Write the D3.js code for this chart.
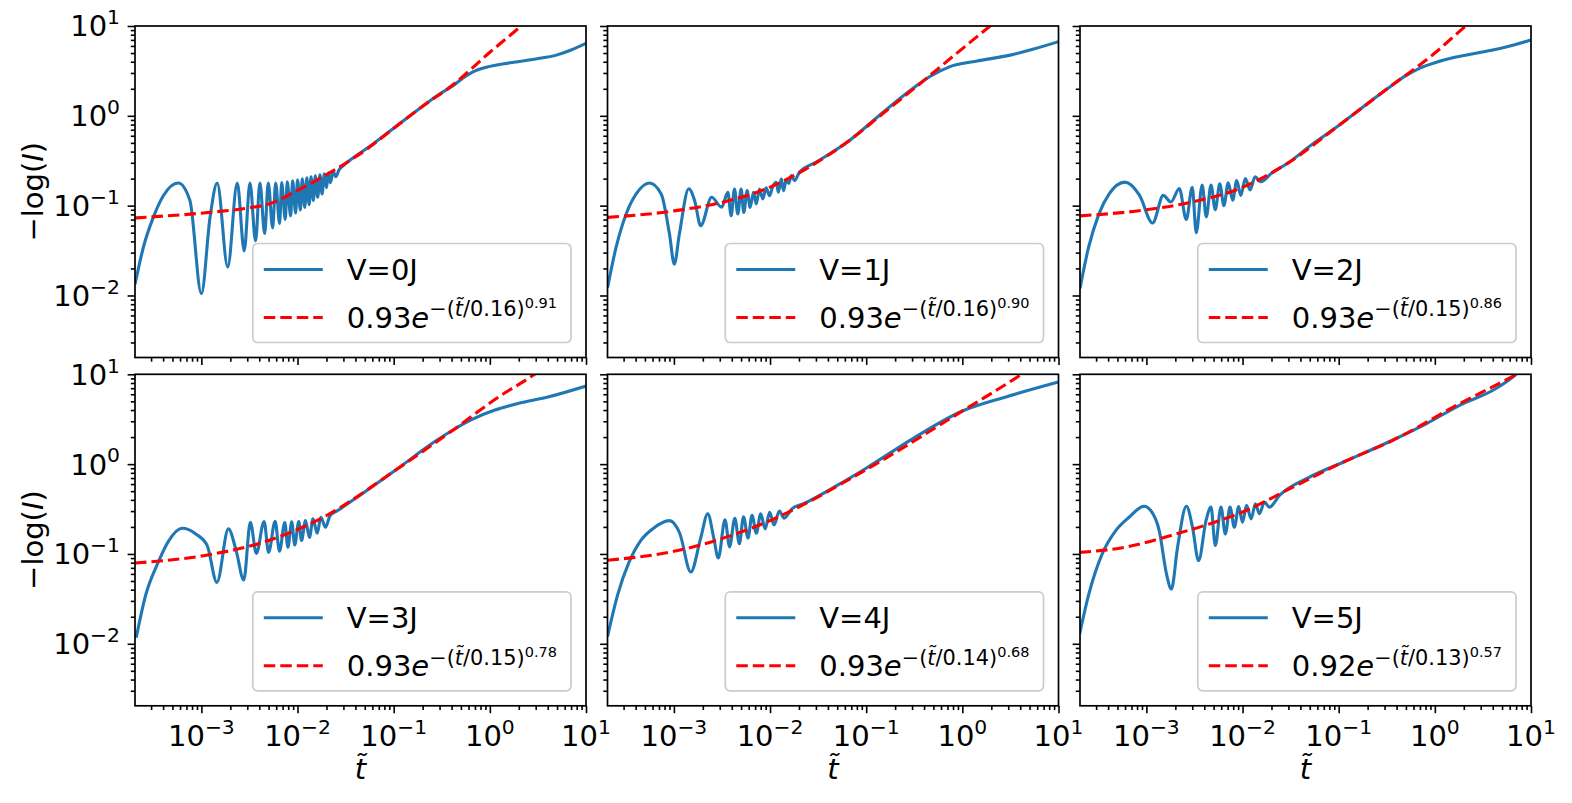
<!DOCTYPE html>
<html lang="en">
<head>
<meta charset="UTF-8">
<title>-log(I) vs t, V=0J..5J</title>
<script src="https://cdn.jsdelivr.net/npm/d3@7"></script>
<style>
  body { margin: 0; background: #fff; }
  svg text { font-family: "DejaVu Sans", sans-serif; fill: #000; }
</style>
</head>
<body>
<script>
// ---- data: [t, -log(I)] ----
var voltages = ["0", "1", "2", "3", "4", "5"];
var fitAmp = ["0.93", "0.93", "0.93", "0.93", "0.93", "0.92"];
var fitTau = ["0.16", "0.16", "0.15", "0.15", "0.14", "0.13"];
var fitBeta = ["0.91", "0.90", "0.86", "0.78", "0.68", "0.57"];

var xTicks = [1e-3, 1e-2, 1e-1, 1, 10];
var xTickExp = ["\u22123", "\u22122", "\u22121", "0", "1"];
var yTicks = [1e-2, 1e-1, 1, 10];
var yTickExp = ["\u22122", "\u22121", "0", "1"];

var blue0 = [[2.04e-4,0.0133],[2.49e-4,0.0342],[3.16e-4,0.074],[4.02e-4,0.129],[5.75e-4,0.179],[7.6e-4,0.114],
  [1.0e-3,0.0105],[1.23e-3,0.074],[1.46e-3,0.179],[1.88e-3,0.0208],[2.36e-3,0.179],[2.79e-3,0.0314],[3.2e-3,0.179],
  [3.66e-3,0.0406],[4.06e-3,0.179],[4.55e-3,0.049],[4.96e-3,0.179],[5.51e-3,0.0564],[5.92e-3,0.179],[6.51e-3,0.0634],
  [6.84e-3,0.181],[7.45e-3,0.0703],[7.82e-3,0.184],[8.47e-3,0.0767],[8.89e-3,0.189],[9.55e-3,0.0828],[1.0e-2,0.194],
  [1.07e-2,0.0895],[1.12e-2,0.199],[1.19e-2,0.0958],[1.25e-2,0.204],[1.32e-2,0.1025],[1.38e-2,0.209],[1.46e-2,0.114],
  [1.53e-2,0.215],[1.62e-2,0.124],[1.71e-2,0.22],[1.8e-2,0.135],[1.9e-2,0.226],[2.0e-2,0.158],[2.1e-2,0.232],
  [2.2e-2,0.18],[2.35e-2,0.24],[2.5e-2,0.21],[2.7e-2,0.25],[3.0e-2,0.28],[3.5e-2,0.32],[6e-2,0.48],[0.104,0.75],
  [0.2,1.28],[0.3,1.75],[0.41,2.15],[0.53,2.65],[0.653,3.05],[0.94,3.5],[1.4,3.8],[1.96,4.0],[3.0,4.3],[4.92,4.74],
  [7.0,5.4],[10,6.4]];
var red0 = [[2.04e-4,0.073],[1.05e-3,0.083],[3e-3,0.094],[5e-3,0.104],[1e-2,0.148],[2e-2,0.222],[5e-2,0.41],
  [0.104,0.75],[0.2,1.28],[0.41,2.2],[1.0,5.1],[2.0,9.5],[2.5,11.7]];

var blue1 = [[2.04e-4,0.0122],[2.5e-4,0.034],[3.19e-4,0.0807],[4.05e-4,0.135],[5.58e-4,0.179],[7.38e-4,0.135],
  [9.0e-4,0.0483],[1.01e-3,0.0223],[1.14e-3,0.0483],[1.43e-3,0.154],[1.65e-3,0.112],[1.9e-3,0.0598],[2.47e-3,0.124],
  [3.14e-3,0.096],[3.64e-3,0.141],[3.94e-3,0.0773],[4.27e-3,0.153],[4.62e-3,0.0807],[5.0e-3,0.153],[5.33e-3,0.084],
  [5.78e-3,0.147],[6.21e-3,0.0957],[6.73e-3,0.141],[7.18e-3,0.1045],[7.77e-3,0.153],[8.4e-3,0.119],[9.1e-3,0.158],
  [9.87e-3,0.129],[1.07e-2,0.165],[1.16e-2,0.182],[1.22e-2,0.141],[1.31e-2,0.199],[1.38e-2,0.147],[1.47e-2,0.19],
  [1.57e-2,0.177],[1.66e-2,0.216],[1.8e-2,0.19],[2.02e-2,0.235],[3.02e-2,0.305],[6.7e-2,0.532],[0.137,1.01],
  [0.305,2.01],[0.455,2.72],[0.733,3.51],[1.39,4.06],[3.15,4.74],[5.4,5.5],[10,6.7]];
var red1 = [[2.04e-4,0.074],[1.05e-3,0.088],[3.78e-3,0.114],[9.1e-3,0.154],[2.37e-2,0.257],[6.7e-2,0.532],
  [0.149,1.06],[0.357,2.25],[0.86,4.9],[1.9,9.8],[2.4,12]];

var blue2 = [[2.04e-4,0.012],[2.5e-4,0.034],[3.2e-4,0.08],[4.1e-4,0.135],[6.0e-4,0.183],[8.5e-4,0.13],[1.16e-3,0.064],
  [1.5e-3,0.13],[1.8e-3,0.11],[2.2e-3,0.155],[2.6e-3,0.07],[3.0e-3,0.16],[3.3e-3,0.05],[3.8e-3,0.17],[4.2e-3,0.075],
  [4.7e-3,0.17],[5.2e-3,0.09],[5.8e-3,0.175],[6.4e-3,0.1],[7.1e-3,0.18],[7.9e-3,0.115],[8.7e-3,0.19],[9.6e-3,0.13],
  [1.07e-2,0.2],[1.2e-2,0.15],[1.35e-2,0.21],[1.55e-2,0.185],[2e-2,0.23],[3e-2,0.3],[5e-2,0.46],[0.1,0.78],[0.3,1.9],
  [0.5,2.8],[0.7,3.4],[1.0,3.9],[1.57,4.45],[2.5,4.9],[4.0,5.4],[6.5,6.1],[10,7.0]];
var red2 = [[2.04e-4,0.077],[1e-3,0.09],[3e-3,0.11],[1e-2,0.16],[3e-2,0.3],[0.1,0.78],[0.3,1.9],[1.0,5.0],
  [2.1,10],[2.6,12]];

var blue3 = [[2.1e-4,0.0117],[2.65e-4,0.0357],[3.49e-4,0.0773],[4.59e-4,0.141],[6.33e-4,0.193],[8.75e-4,0.167],
  [1.15e-3,0.124],[1.45e-3,0.0482],[1.91e-3,0.19],[2.3e-3,0.109],[2.76e-3,0.0512],[3.23e-3,0.225],[3.73e-3,0.1016],
  [4.49e-3,0.23],[5.0e-3,0.104],[5.85e-3,0.231],[6.49e-3,0.107],[7.37e-3,0.224],[7.94e-3,0.119],[8.7e-3,0.228],
  [9.35e-3,0.126],[1.03e-2,0.23],[1.1e-2,0.141],[1.21e-2,0.235],[1.33e-2,0.153],[1.45e-2,0.246],[1.6e-2,0.17],
  [1.75e-2,0.256],[1.95e-2,0.198],[2.18e-2,0.268],[2.62e-2,0.305],[0.104,0.853],[0.261,1.75],[0.413,2.4],
  [0.653,3.15],[1.13,4.0],[1.96,4.74],[4.1,5.62],[10,7.4]];
var red3 = [[2.04e-4,0.0794],[1.05e-3,0.0957],[5e-3,0.141],[2e-2,0.268],[0.104,0.853],[0.413,2.39],[1.24,5.62],
  [2.84,9.8],[3.5,11.5]];

var blue4 = [[2.04e-4,0.012],[2.6e-4,0.035],[3.4e-4,0.08],[4.5e-4,0.14],[6e-4,0.19],[9e-4,0.235],[1.15e-3,0.17],
  [1.5e-3,0.063],[1.9e-3,0.15],[2.25e-3,0.28],[2.6e-3,0.15],[2.9e-3,0.09],[3.4e-3,0.24],[3.8e-3,0.12],[4.3e-3,0.25],
  [4.8e-3,0.13],[5.3e-3,0.26],[5.9e-3,0.15],[6.5e-3,0.27],[7.2e-3,0.17],[8e-3,0.28],[8.9e-3,0.19],[9.9e-3,0.29],
  [1.1e-2,0.21],[1.25e-2,0.3],[1.4e-2,0.25],[1.7e-2,0.32],[2.2e-2,0.36],[5e-2,0.58],[0.1,0.9],[0.3,1.9],[1,3.9],
  [3,5.7],[10,8.2]];
var red4 = [[2.04e-4,0.085],[1e-3,0.107],[1e-2,0.235],[0.1,0.87],[1,3.9],[4,9.8],[5,11.5]];

var blue5 = [[2.02e-4,0.0128],[2.52e-4,0.0357],[3.47e-4,0.1],[4.8e-4,0.182],[6.6e-4,0.256],[9.46e-4,0.34],
  [1.11e-3,0.305],[1.36e-3,0.182],[1.62e-3,0.0597],[1.82e-3,0.0406],[2.11e-3,0.119],[2.61e-3,0.34],[3.02e-3,0.198],
  [3.49e-3,0.0841],[4.17e-3,0.235],[4.7e-3,0.332],[5.21e-3,0.124],[5.97e-3,0.332],[6.62e-3,0.167],[7.41e-3,0.332],
  [8.22e-3,0.198],[9.12e-3,0.337],[1.0e-2,0.225],[1.1e-2,0.347],[1.23e-2,0.246],[1.36e-2,0.362],[1.5e-2,0.28],
  [1.69e-2,0.378],[1.9e-2,0.332],[2.42e-2,0.448],[4.98e-2,0.718],[0.111,1.05],[0.314,1.72],[0.82,2.83],[1.83,4.54],
  [4.06,6.68],[6.84,9.8],[8,11.5]];
var red5 = [[2.02e-4,0.104],[6.1e-4,0.119],[2.03e-3,0.167],[4.52e-3,0.216],[1.09e-2,0.305],[3.34e-2,0.555],
  [0.111,1.05],[0.369,1.85],[1.83,4.74],[6.84,9.8],[9,11.5]];

var blues = [blue0, blue1, blue2, blue3, blue4, blue5];
var reds = [red0, red1, red2, red3, red4, red5];

// ---- layout ----
var W = 1572, H = 803;
var panelLeft = [135, 607.5, 1080];
var panelTop = [26, 374.3];
var pw = 451, ph = 331.5;
var F = 29;
var xMin = 2.04e-4, xMax = 10, yMin = 2.04e-3, yMax = 10;

var svg = d3.select("body").append("svg")
    .attr("width", W)
    .attr("height", H);

function supLabel(sel, base, exp) {
    sel.append("tspan").text(base);
    sel.append("tspan")
        .attr("font-size", 0.7 * F)
        .attr("dy", -0.42 * F)
        .text(exp);
}

voltages.forEach(function(v, i) {
    var col = i % 3, row = Math.floor(i / 3);
    var L = panelLeft[col], T = panelTop[row];

    var x = d3.scaleLog().domain([xMin, xMax]).range([L, L + pw]);
    var y = d3.scaleLog().domain([yMin, yMax]).range([T + ph, T]);

    var g = svg.append("g");

    g.append("clipPath").attr("id", "clip" + i)
        .append("rect")
        .attr("x", L).attr("y", T)
        .attr("width", pw).attr("height", ph);

    var line = d3.line()
        .x(function(d) { return x(d[0]); })
        .y(function(d) { return y(d[1]); })
        .curve(d3.curveMonotoneX);

    g.append("path")
        .datum(blues[i])
        .attr("d", line)
        .attr("fill", "none")
        .attr("stroke", "#1f77b4")
        .attr("stroke-width", 3.1)
        .attr("clip-path", "url(#clip" + i + ")");

    g.append("path")
        .datum(reds[i])
        .attr("d", line)
        .attr("fill", "none")
        .attr("stroke", "#ff0000")
        .attr("stroke-width", 3.1)
        .attr("stroke-dasharray", "11.5,5")
        .attr("clip-path", "url(#clip" + i + ")");

    // ticks
    var isMajor = function(d) { return Math.abs(Math.log10(d) - Math.round(Math.log10(d))) < 1e-6; };
    var xMinor = x.ticks().filter(function(d) { return !isMajor(d) && d >= xMin; });
    var yMinor = y.ticks().filter(function(d) { return !isMajor(d) && d >= yMin; });

    var xa = g.append("g").attr("transform", "translate(0," + (T + ph) + ")");
    xa.append("g").call(d3.axisBottom(x).tickValues(xTicks).tickSize(7.4).tickFormat(""));
    xa.append("g").call(d3.axisBottom(x).tickValues(xMinor).tickSize(4.2).tickFormat(""));
    xa.selectAll(".domain").remove();
    xa.selectAll(".tick line").attr("stroke-width", 1.6);

    var ya = g.append("g").attr("transform", "translate(" + L + ",0)");
    ya.append("g").call(d3.axisLeft(y).tickValues(yTicks).tickSize(7.4).tickFormat(""));
    ya.append("g").call(d3.axisLeft(y).tickValues(yMinor).tickSize(4.2).tickFormat(""));
    ya.selectAll(".domain").remove();
    ya.selectAll(".tick line").attr("stroke-width", 1.6);

    // spines
    g.append("rect")
        .attr("x", L).attr("y", T)
        .attr("width", pw).attr("height", ph)
        .attr("fill", "none")
        .attr("stroke", "#000")
        .attr("stroke-width", 1.7);

    // tick labels
    if (row == 1) {
        xTicks.forEach(function(t, k) {
            var tx = g.append("text")
                .attr("x", x(t))
                .attr("y", T + ph + 40)
                .attr("text-anchor", "middle")
                .attr("font-size", F);
            supLabel(tx, "10", xTickExp[k]);
        });
        g.append("text")
            .attr("x", L + pw / 2)
            .attr("y", T + ph + 73)
            .attr("text-anchor", "middle")
            .attr("font-size", F)
            .attr("font-style", "italic")
            .text("t\u0303");
    }
    if (col == 0) {
        yTicks.forEach(function(t, k) {
            var ty = g.append("text")
                .attr("x", L - 15)
                .attr("y", y(t) + 0.36 * F)
                .attr("text-anchor", "end")
                .attr("font-size", F);
            supLabel(ty, "10", yTickExp[k]);
        });
        var yl = g.append("text")
            .attr("transform", "translate(33," + (T + ph / 2) + ") rotate(-90)")
            .attr("dy", "0.35em")
            .attr("text-anchor", "middle")
            .attr("font-size", F);
        yl.append("tspan").text("\u2212log(");
        yl.append("tspan").attr("font-style", "italic").text("I");
        yl.append("tspan").text(")");
    }

    // legend
    var lg = g.append("g");
    var box = lg.append("rect")
        .attr("rx", 5).attr("ry", 5)
        .attr("fill", "#fff")
        .attr("fill-opacity", 0.8)
        .attr("stroke", "#cccccc")
        .attr("stroke-width", 1.7);
    var t1 = lg.append("text").attr("font-size", F).text("V=" + v + "J");
    var t2 = lg.append("text").attr("font-size", F);
    t2.append("tspan").text(fitAmp[i]);
    t2.append("tspan").attr("font-style", "italic").text("e");
    t2.append("tspan").attr("font-size", 0.72 * F).attr("dy", -0.4 * F).text("\u2212(");
    t2.append("tspan").attr("font-size", 0.72 * F).attr("font-style", "italic").text("t\u0303");
    t2.append("tspan").attr("font-size", 0.72 * F).text("/" + fitTau[i] + ")");
    t2.append("tspan").attr("font-size", 0.5 * F).attr("dy", -0.28 * F).text(fitBeta[i]);

    var textW = Math.max(t1.node().getComputedTextLength(), t2.node().getComputedTextLength());
    var lw = 94 + textW + 14, lh = 99;
    var lx = L + pw - 15 - lw, ly = T + ph - 15 - lh;
    box.attr("x", lx).attr("y", ly).attr("width", lw).attr("height", lh);
    lg.append("line")
        .attr("x1", lx + 11).attr("x2", lx + 70)
        .attr("y1", ly + 26).attr("y2", ly + 26)
        .attr("stroke", "#1f77b4").attr("stroke-width", 3.1);
    lg.append("line")
        .attr("x1", lx + 11).attr("x2", lx + 70)
        .attr("y1", ly + 74).attr("y2", ly + 74)
        .attr("stroke", "#ff0000").attr("stroke-width", 3.1)
        .attr("stroke-dasharray", "11.5,5");
    t1.attr("x", lx + 94).attr("y", ly + 26 + 0.36 * F);
    t2.attr("x", lx + 94).attr("y", ly + 74 + 0.36 * F);
});
</script>
</body>
</html>
